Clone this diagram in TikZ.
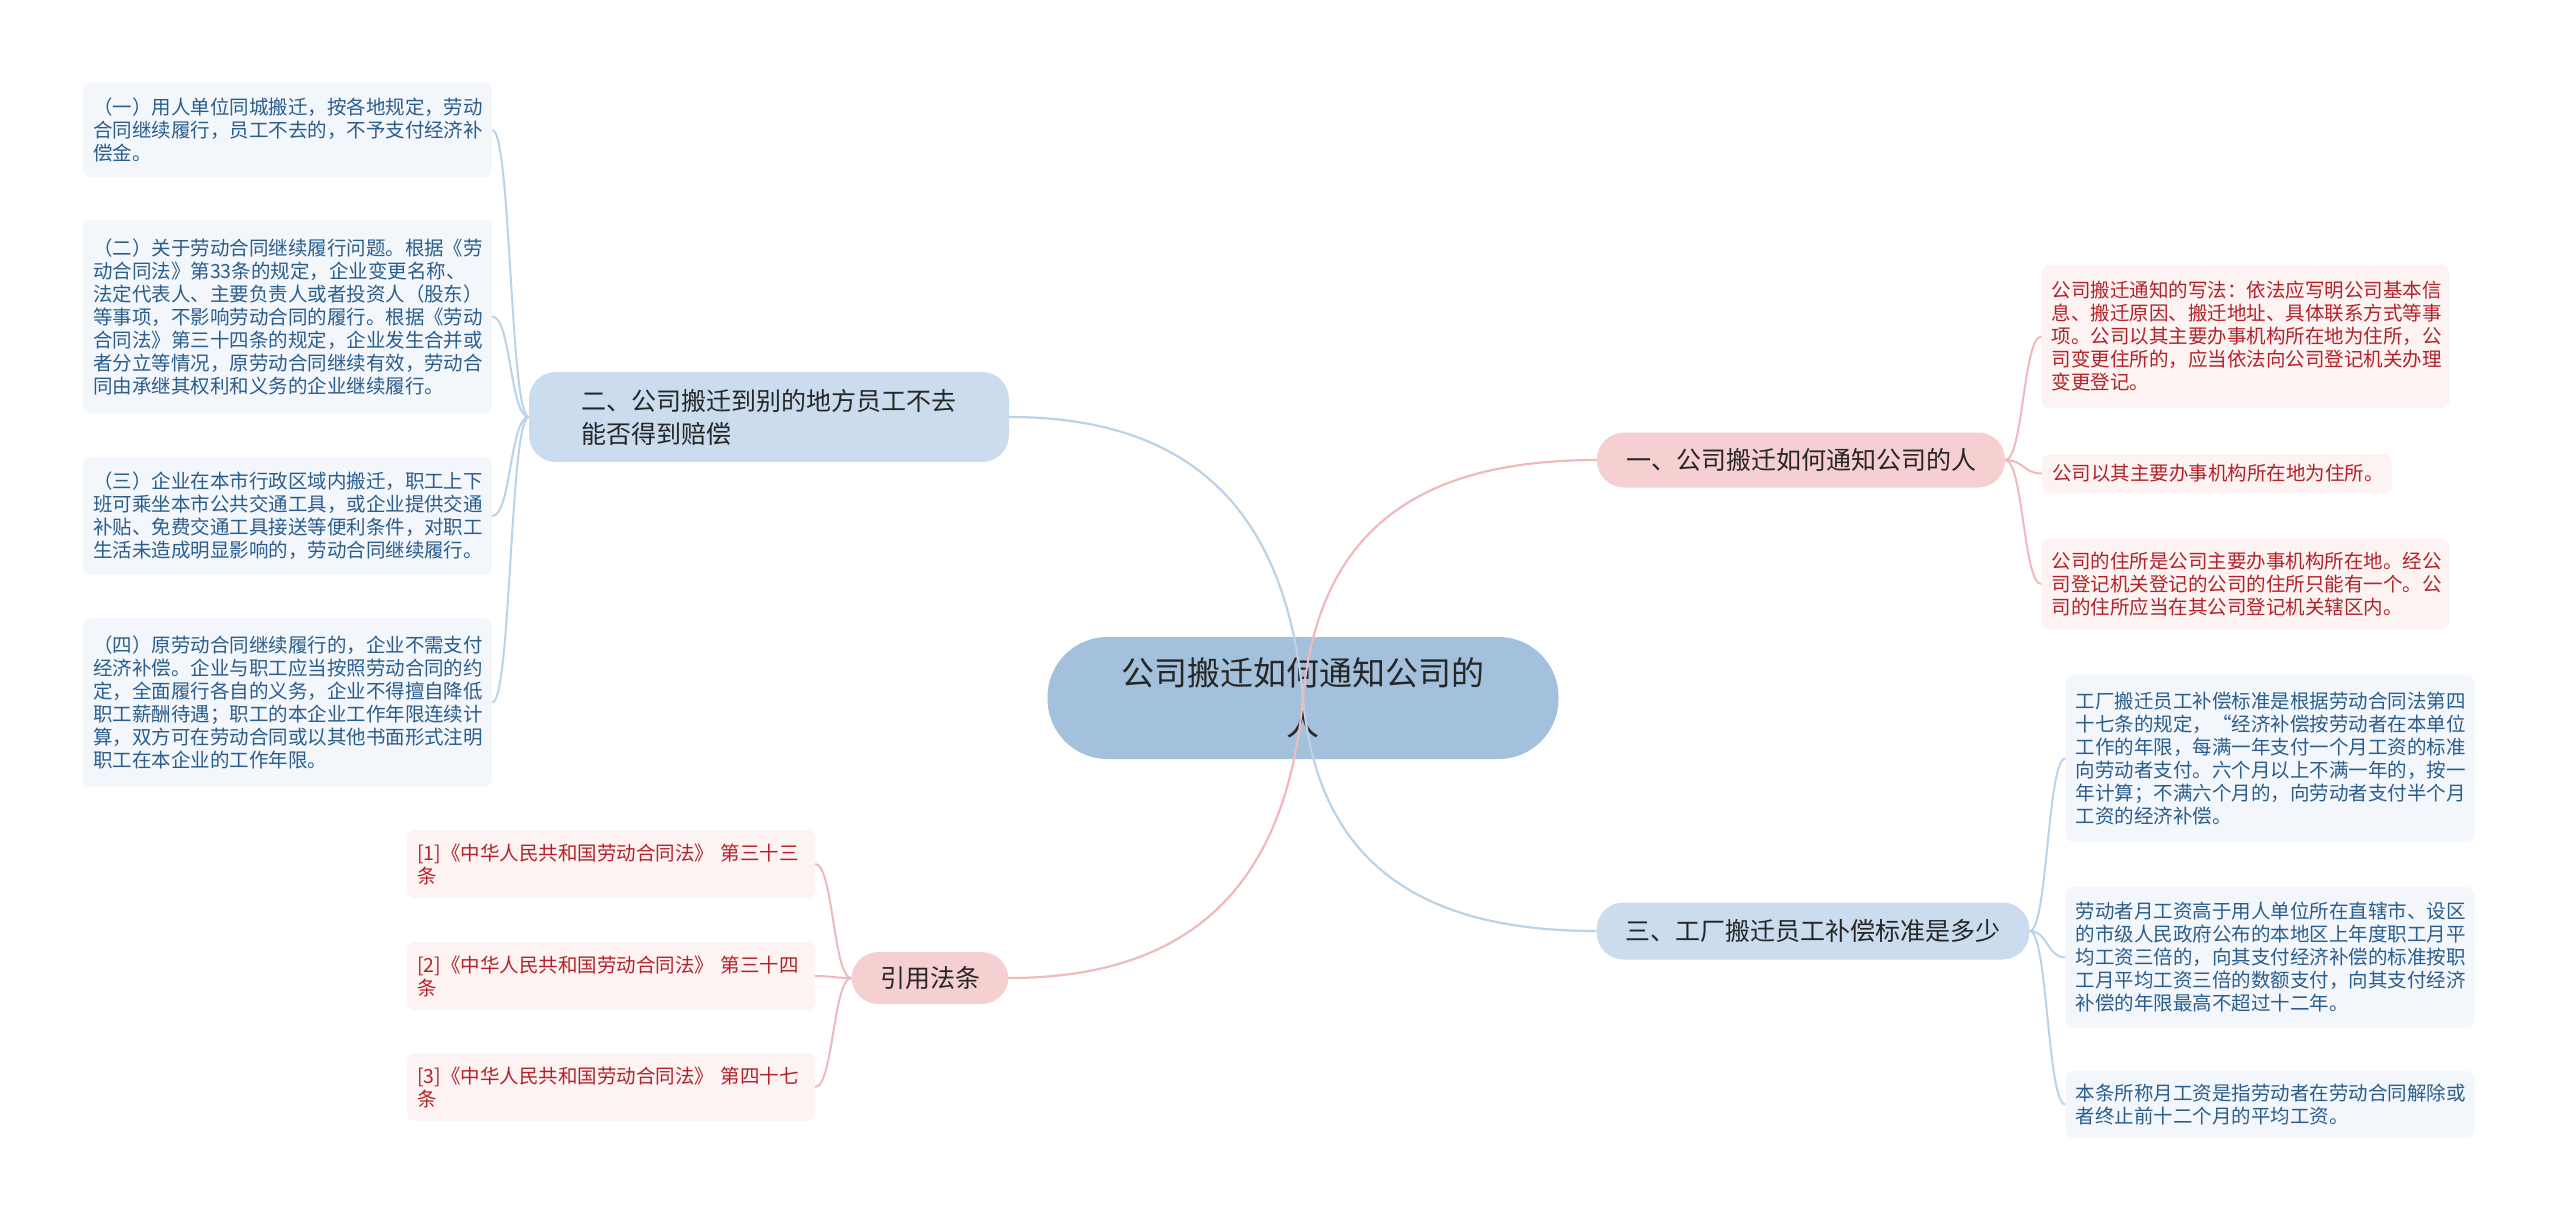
\documentclass[tikz,border=0pt]{standalone}
\usepackage{fontspec}
\setmainfont{Noto Sans CJK SC}
\definecolor{rootfill}{RGB}{163,192,220}
\definecolor{bluefill}{RGB}{202,220,238}
\definecolor{pinkfill}{RGB}{246,207,208}
\definecolor{noteblue}{RGB}{243,247,252}
\definecolor{notepink}{RGB}{253,243,243}
\definecolor{bluetext}{RGB}{42,93,140}
\definecolor{redtext}{RGB}{178,34,40}
\definecolor{blueline}{RGB}{188,210,230}
\definecolor{pinkline}{RGB}{240,186,188}

\begin{document}
\begin{tikzpicture}[x=1pt, y=-1pt,
  root/.style={fill=rootfill, rounded corners=60pt, minimum width=511pt, minimum height=122pt,
    align=center, text=black!85, font=\fontsize{33}{50}\selectfont},
  branchblue/.style={fill=bluefill, rounded corners=27pt, align=left, text=black!85,
    font=\fontsize{25}{33}\selectfont},
  branchpink/.style={fill=pinkfill, rounded corners=27pt, align=left, text=black!85,
    font=\fontsize{25}{33}\selectfont},
  bluenote/.style={fill=noteblue, text=bluetext, rounded corners=8pt, inner xsep=10pt,
    text width=389pt, align=left, font=\fontsize{19.5}{23}\selectfont},
  pinknote/.style={fill=notepink, text=redtext, rounded corners=8pt, inner xsep=10pt,
    text width=388pt, align=left, font=\fontsize{19.5}{23}\selectfont},
  bluelink/.style={draw=blueline, line width=2.2pt},
  pinklink/.style={draw=pinkline, line width=2.2pt}]
  \useasboundingbox[fill=white] (0,0) rectangle (2560,1225);

  \node[root] (root) at (1303,698) {公司搬迁如何通知公司的\\人};

  \node[branchblue, minimum width=480pt, minimum height=90pt] (sec2) at (769,417)
    {二、公司搬迁到别的地方员工不去\\能否得到赔偿};
  \node[branchpink, minimum width=408pt, minimum height=55pt] (sec1) at (1801,460)
    {一、公司搬迁如何通知公司的人};
  \node[branchblue, minimum width=433pt, minimum height=57pt] (sec3) at (1813,931)
    {三、工厂搬迁员工补偿标准是多少};
  \node[branchpink, minimum width=157pt, minimum height=52pt] (refs) at (930,978)
    {引用法条};

  \node[bluenote, minimum height=94pt] (s2a) at (287.5,130)
    {（一）用人单位同城搬迁，按各地规定，劳动\\合同继续履行，员工不去的，不予支付经济补\\偿金。};
  \node[bluenote, minimum height=193pt] (s2b) at (287.5,316.5)
    {（二）关于劳动合同继续履行问题。根据《劳\\动合同法》第33条的规定，企业变更名称、\\法定代表人、主要负责人或者投资人（股东）\\等事项，不影响劳动合同的履行。根据《劳动\\合同法》第三十四条的规定，企业发生合并或\\者分立等情况，原劳动合同继续有效，劳动合\\同由承继其权利和义务的企业继续履行。};
  \node[bluenote, minimum height=118pt] (s2c) at (287.5,516)
    {（三）企业在本市行政区域内搬迁，职工上下\\班可乘坐本市公共交通工具，或企业提供交通\\补贴、免费交通工具接送等便利条件，对职工\\生活未造成明显影响的，劳动合同继续履行。};
  \node[bluenote, minimum height=169pt] (s2d) at (287.5,702.5)
    {（四）原劳动合同继续履行的，企业不需支付\\经济补偿。企业与职工应当按照劳动合同的约\\定，全面履行各自的义务，企业不得擅自降低\\职工薪酬待遇；职工的本企业工作年限连续计\\算，双方可在劳动合同或以其他书面形式注明\\职工在本企业的工作年限。};

  \node[pinknote, minimum height=143pt] (s1a) at (2245.5,336.5)
    {公司搬迁通知的写法：依法应写明公司基本信\\息、搬迁原因、搬迁地址、具体联系方式等事\\项。公司以其主要办事机构所在地为住所，公\\司变更住所的，应当依法向公司登记机关办理\\变更登记。};
  \node[pinknote, text width=330pt, minimum height=39pt] (s1b) at (2217,473.5)
    {公司以其主要办事机构所在地为住所。};
  \node[pinknote, minimum height=90pt] (s1c) at (2245.5,584)
    {公司的住所是公司主要办事机构所在地。经公\\司登记机关登记的公司的住所只能有一个。公\\司的住所应当在其公司登记机关辖区内。};

  \node[bluenote, minimum height=167pt] (s3a) at (2270,758.5)
    {工厂搬迁员工补偿标准是根据劳动合同法第四\\十七条的规定，“经济补偿按劳动者在本单位\\工作的年限，每满一年支付一个月工资的标准\\向劳动者支付。六个月以上不满一年的，按一\\年计算；不满六个月的，向劳动者支付半个月\\工资的经济补偿。};
  \node[bluenote, minimum height=141pt] (s3b) at (2270,957.5)
    {劳动者月工资高于用人单位所在直辖市、设区\\的市级人民政府公布的本地区上年度职工月平\\均工资三倍的，向其支付经济补偿的标准按职\\工月平均工资三倍的数额支付，向其支付经济\\补偿的年限最高不超过十二年。};
  \node[bluenote, minimum height=67pt] (s3c) at (2270,1104.5)
    {本条所称月工资是指劳动者在劳动合同解除或\\者终止前十二个月的平均工资。};

  \node[pinknote, minimum height=68pt] (r1) at (611,864)
    {[1]《中华人民共和国劳动合同法》 第三十三\\条};
  \node[pinknote, minimum height=68pt] (r2) at (611,976)
    {[2]《中华人民共和国劳动合同法》 第三十四\\条};
  \node[pinknote, minimum height=68pt] (r3) at (611,1087)
    {[3]《中华人民共和国劳动合同法》 第四十七\\条};

  \draw[bluelink] (root.center) .. controls +(-18,-200) and +(170,0) .. (sec2.east);
  \draw[bluelink] (root.center) .. controls +(15,170) and +(-170,0) .. (sec3.west);
  \draw[pinklink] (root.center) .. controls +(16,-175) and +(-170,0) .. (sec1.west);
  \draw[pinklink] (root.center) .. controls +(-18,200) and +(170,0) .. (refs.east);

  \foreach \n in {s2a,s2b,s2c,s2d}
    \draw[bluelink, line width=2pt] (sec2.west) .. controls +(-19,0) and +(19,0) .. (\n.east);
  \foreach \n in {s1a,s1b,s1c}
    \draw[pinklink, line width=2pt] (sec1.east) .. controls +(18,0) and +(-18,0) .. (\n.west);
  \foreach \n in {s3a,s3b,s3c}
    \draw[bluelink, line width=2pt] (sec3.east) .. controls +(18,0) and +(-18,0) .. (\n.west);
  \foreach \n in {r1,r2,r3}
    \draw[pinklink, line width=2pt] (refs.west) .. controls +(-18,0) and +(18,0) .. (\n.east);
\end{tikzpicture}
\end{document}
